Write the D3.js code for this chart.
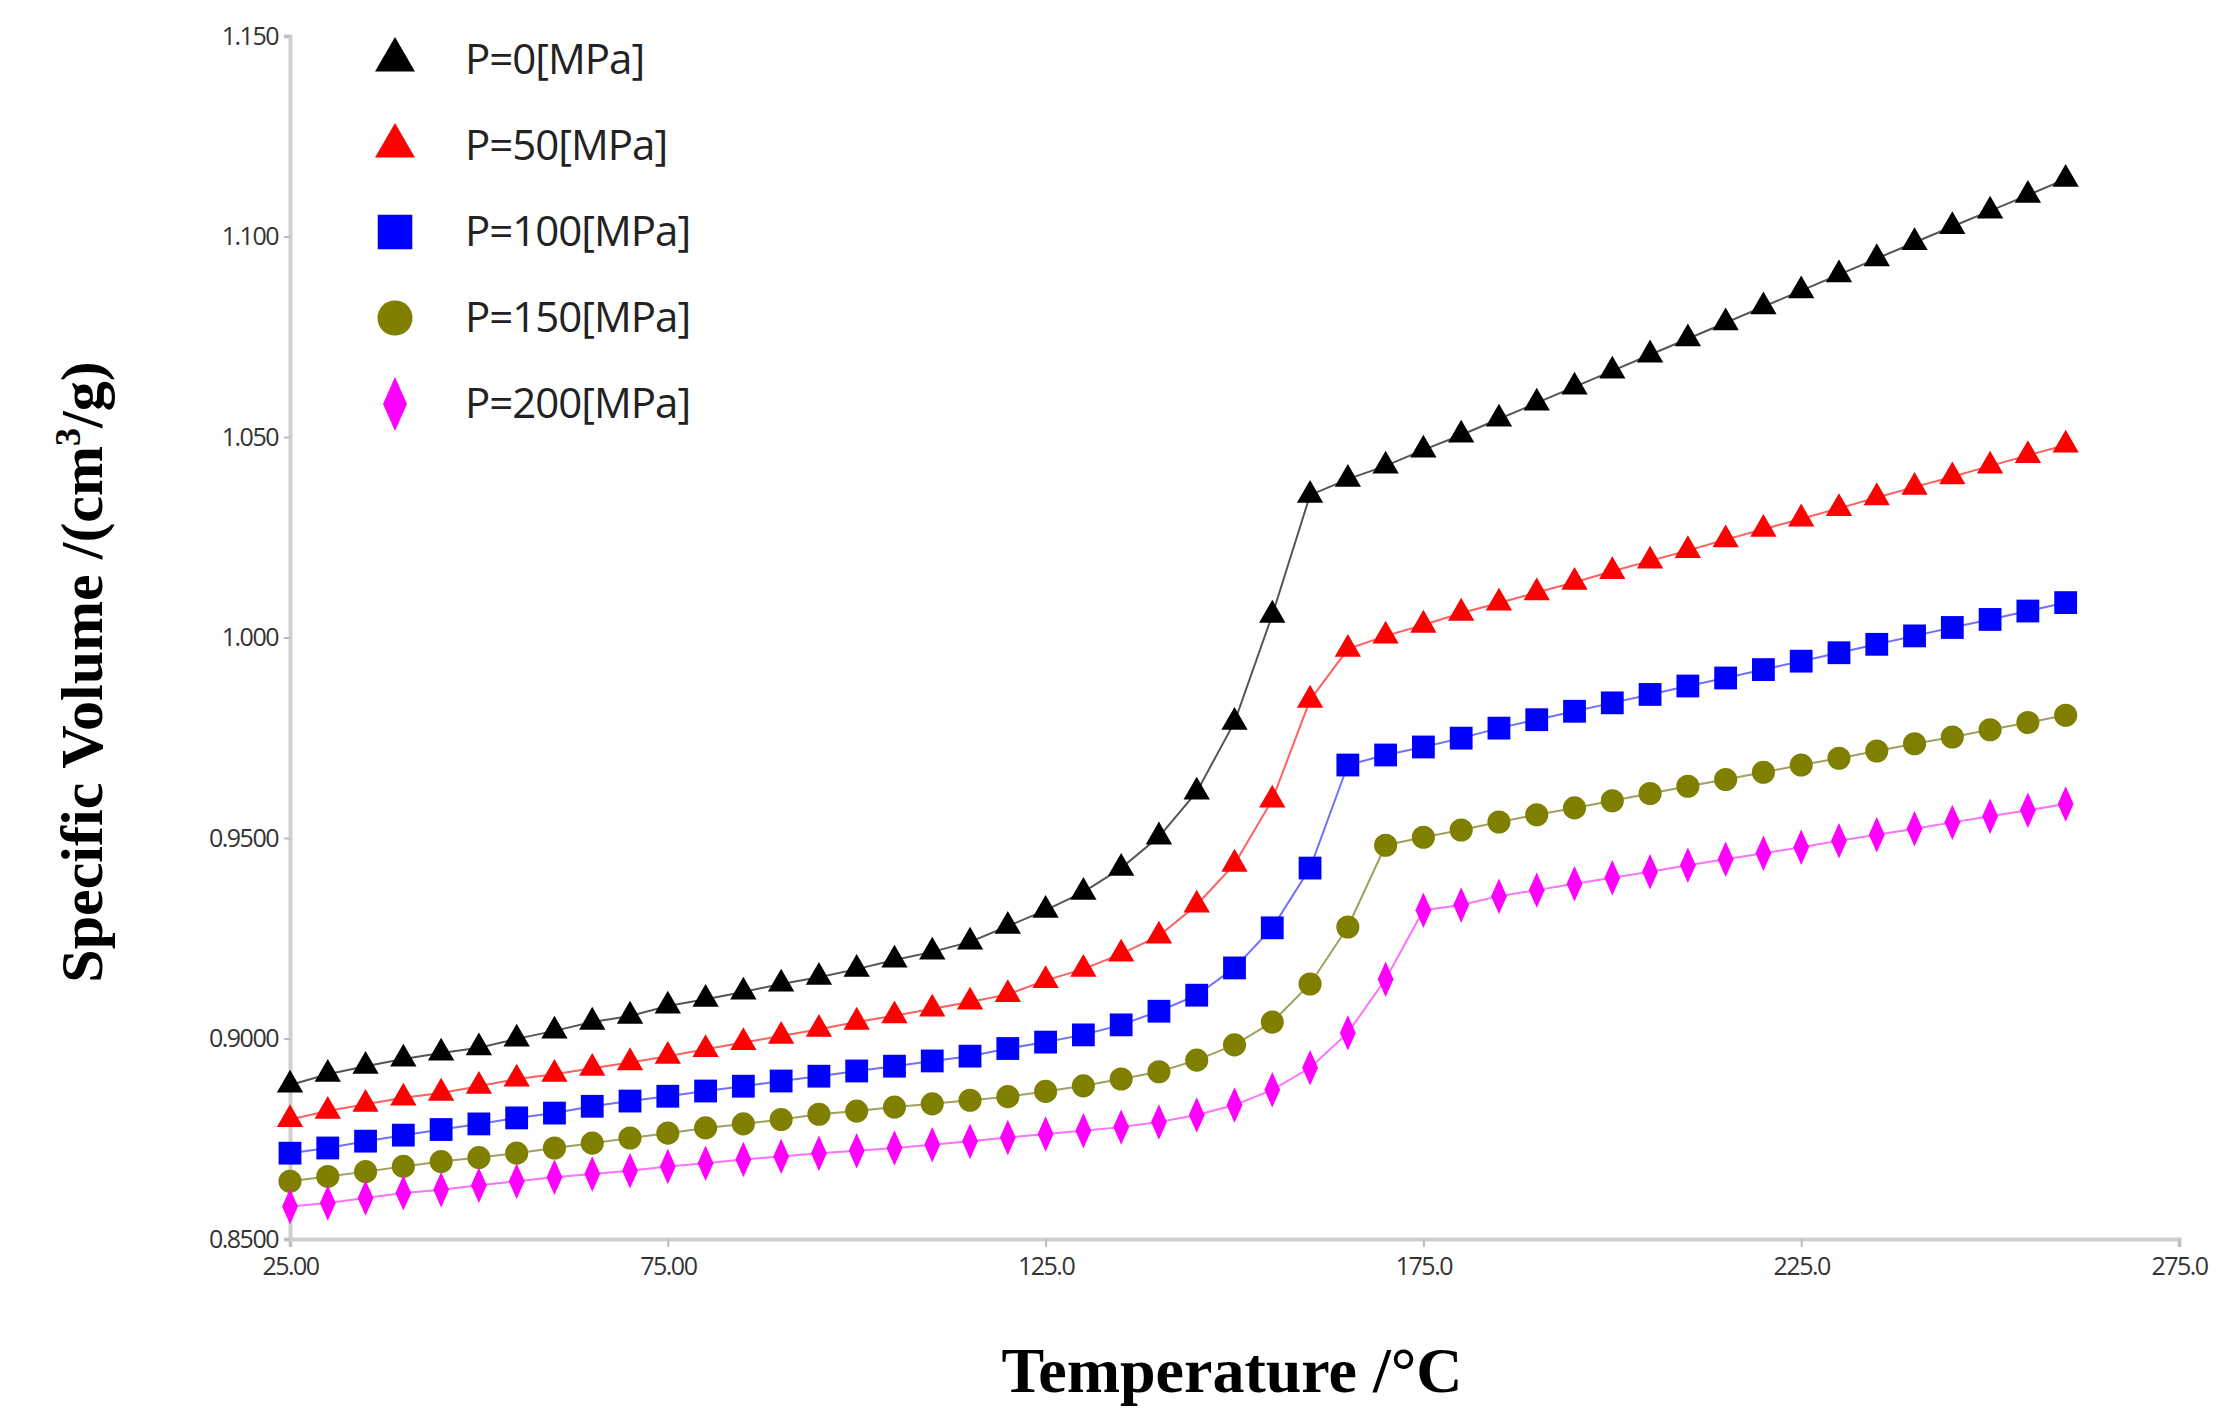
<!DOCTYPE html>
<html><head><meta charset="utf-8">
<script src="https://cdn.jsdelivr.net/npm/d3@7"></script>
<style>body{margin:0;background:#fff}svg{display:block}</style>
</head><body>
<svg id="chart" width="2232" height="1421"></svg>
<script>
// temperatures, °C
var temps = [25,30,35,40,45,50,55,60,65,70,75,80,85,90,95,100,105,110,115,120,125,130,135,140,145,150,155,160,165,170,175,180,185,190,195,200,205,210,215,220,225,230,235,240,245,250,255,260];

var p0 = [.8884,.8911,.8931,.8949,.8964,.8977,.8999,.9019,.9041,.9056,.9081,.9098,.9116,.9136,.9153,.9173,.9196,.9216,.9241,
  .9280,.9320,.9365,.9425,.9503,.9615,.9789,1.0056,1.0355,1.0395,1.0428,1.0468,1.0505,1.0545,
  1.0585,1.0625,1.0665,1.0705,1.0745,1.0785,1.0825,1.0865,1.0905,1.0945,1.0985,1.1025,1.1064,1.1103,1.1143];
var p50 = [.8798,.8819,.8836,.8852,.8864,.8881,.8899,.8911,.8926,.8940,.8956,.8973,.8990,.9006,.9023,.9041,.9057,.9074,.9091,
  .9110,.9145,.9173,.9211,.9256,.9333,.9435,.9595,.9844,.9971,1.0004,1.0031,1.0061,1.0086,
  1.0112,1.0138,1.0165,1.0191,1.0217,1.0244,1.0270,1.0296,1.0322,1.0349,1.0375,1.0401,1.0428,1.0454,1.0480];
var p100 = [.8714,.8727,.8744,.8759,.8773,.8787,.8802,.8814,.8831,.8844,.8856,.8869,.8881,.8894,.8906,.8919,.8931,.8944,.8956,
  .8975,.8991,.9009,.9034,.9068,.9108,.9176,.9276,.9425,.9682,.9707,.9727,.9749,.9774,
  .9795,.9816,.9837,.9858,.9879,.9899,.9920,.9941,.9962,.9983,1.0004,1.0025,1.0045,1.0066,1.0087];
var p150 = [.8644,.8656,.8668,.8681,.8693,.8703,.8714,.8727,.8739,.8752,.8764,.8777,.8787,.8798,.8811,.8819,.8829,.8837,.8846,
  .8855,.8868,.8882,.8899,.8917,.8946,.8984,.9041,.9136,.9278,.9482,.9502,.9520,.9540,
  .9558,.9575,.9593,.9611,.9629,.9646,.9664,.9682,.9699,.9717,.9735,.9752,.9770,.9788,.9806];
var p200 = [.8581,.8590,.8602,.8615,.8623,.8634,.8644,.8654,.8662,.8670,.8681,.8689,.8698,.8706,.8714,.8720,.8727,.8735,.8744,
  .8753,.8762,.8770,.8779,.8792,.8809,.8834,.8872,.8927,.9014,.9148,.9320,.9333,.9355,
  .9370,.9386,.9401,.9416,.9432,.9447,.9462,.9477,.9493,.9508,.9523,.9539,.9554,.9569,.9585];

var seriesNames = ["P=0[MPa]","P=50[MPa]","P=100[MPa]","P=150[MPa]","P=200[MPa]"];
var xTicks = [25,75,125,175,225,275];
var xTickLabels = ["25.00","75.00","125.0","175.0","225.0","275.0"];
var yTicks = [0.85,0.90,0.95,1.00,1.05,1.10,1.15];
var yTickLabels = ["0.8500","0.9000","0.9500","1.000","1.050","1.100","1.150"];

var series = [
  {name:seriesNames[0], values:p0,   sym:d3.symbolTriangle, size:300, fill:"#000000", line:"#555555"},
  {name:seriesNames[1], values:p50,  sym:d3.symbolTriangle, size:300, fill:"#ff0000", line:"#ff6060"},
  {name:seriesNames[2], values:p100, sym:d3.symbolSquare,   size:520, fill:"#0000ff", line:"#7070ff"},
  {name:seriesNames[3], values:p150, sym:d3.symbolCircle,   size:420, fill:"#808000", line:"#a0a060"},
  {name:seriesNames[4], values:p200, sym:d3.symbolDiamond,  size:300, fill:"#ff00ff", line:"#ff70ff"}
];

var svg = d3.select("#chart");
var L = 290, R = 2179, T = 36, B = 1239;
var x = d3.scaleLinear().domain([25,275]).range([L,R]);
var y = d3.scaleLinear().domain([0.85,1.15]).range([B,T]);

var xAxis = svg.append("g").attr("transform","translate(0,"+B+")")
  .call(d3.axisBottom(x).tickValues(xTicks).tickSize(8).tickPadding(10)
    .tickFormat(function(d,i){return xTickLabels[i];}));
var yAxis = svg.append("g").attr("transform","translate("+L+",0)")
  .call(d3.axisLeft(y).tickValues(yTicks).tickSize(6).tickPadding(6)
    .tickFormat(function(d,i){return yTickLabels[i];}));
[xAxis,yAxis].forEach(function(a){
  a.select(".domain").attr("stroke","#cfcfcf").attr("stroke-width",4);
  a.selectAll(".tick line").attr("stroke","#bbbbbb").attr("stroke-width",2);
  a.selectAll("text").attr("fill","#333").style("font-family","'Open Sans'").style("font-size","25px")
    .style("letter-spacing","-1.5px");
});

series.forEach(function(s){
  var pts = temps.map(function(t,i){return [t,s.values[i]];});
  svg.append("path").datum(pts)
    .attr("fill","none").attr("stroke",s.line).attr("stroke-width",2)
    .attr("d", d3.line().x(function(d){return x(d[0]);}).y(function(d){return y(d[1]);}));
  svg.append("g").selectAll("path").data(pts).join("path")
    .attr("transform",function(d){return "translate("+x(d[0])+","+y(d[1])+")"+(s.sym===d3.symbolDiamond?" scale(0.85,1.1)":"");})
    .attr("d", d3.symbol().type(s.sym).size(s.size))
    .attr("fill", s.fill);
});

// legend
var lg = svg.append("g");
series.forEach(function(s,i){
  var yy = 60 + i*86;
  lg.append("path").attr("transform","translate(395,"+yy+")"+(s.sym===d3.symbolDiamond?" scale(0.85,1.1)":""))
    .attr("d", d3.symbol().type(s.sym).size(s.size*2.3)).attr("fill", s.fill);
  lg.append("text").attr("x",465).attr("y",yy+14).text(s.name)
    .attr("fill","#222").style("font-family","'Open Sans'").style("font-size","42px").style("letter-spacing","-1px");
});

svg.append("text").attr("x",1232).attr("y",1392).attr("text-anchor","middle")
  .style("font-family","'Liberation Serif'").style("font-weight","bold").style("font-size","64px")
  .text("Temperature /°C");
var yt = svg.append("text").attr("transform","translate(102,672) rotate(-90)").attr("text-anchor","middle")
  .style("font-family","'Liberation Serif'").style("font-weight","bold").style("font-size","60px");
yt.append("tspan").text("Specific Volume /(cm");
yt.append("tspan").attr("dy",-22).style("font-size","36px").text("3");
yt.append("tspan").attr("dy",22).text("/g)");
</script>
</body></html>
